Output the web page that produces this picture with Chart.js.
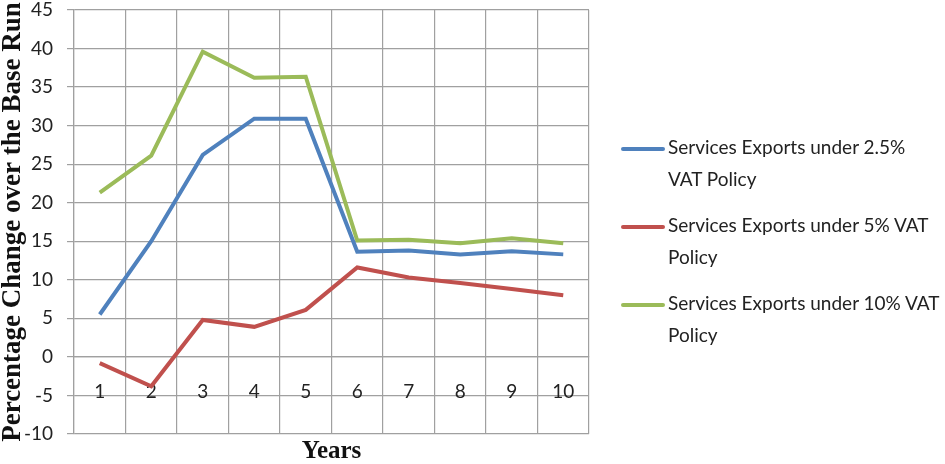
<!DOCTYPE html>
<html>
<head>
<meta charset="utf-8">
<script src="https://cdn.jsdelivr.net/npm/chart.js@4.4.1/dist/chart.umd.min.js"></script>
<style>
  html, body { margin: 0; padding: 0; background: #fff; }
  #wrap { position: relative; width: 945px; height: 464px; }
  #legend { position: absolute; left: 621px; top: 131px; font-family: Lato, sans-serif; font-size: 19px; color: #222; }
  .item { display: flex; align-items: flex-start; margin-bottom: 14px; }
  .swatch { width: 44px; height: 4px; border-radius: 2px; margin-top: 16px; margin-right: 3px; flex: none; }
  .txt { width: 275px; line-height: 32px; }
</style>
</head>
<body>
<div id="wrap">
  <canvas id="chart" width="945" height="464"></canvas>
  <div id="legend"></div>
</div>
<script>
const years = ["1", "2", "3", "4", "5", "6", "7", "8", "9", "10"];
const seriesNames = [
  "Services Exports under 2.5% VAT Policy",
  "Services Exports under 5% VAT Policy",
  "Services Exports under 10% VAT Policy"
];
const vat25 = [5.5, 15.0, 26.2, 30.9, 30.9, 13.65, 13.8, 13.3, 13.7, 13.3];
const vat5 = [-0.8, -3.8, 4.8, 3.9, 6.1, 11.6, 10.3, 9.6, 8.8, 8.0];
const vat10 = [21.3, 26.1, 39.6, 36.2, 36.35, 15.1, 15.2, 14.75, 15.4, 14.75];
const colors = ["#4F81BD", "#C0504D", "#9BBB59"];

const gridColor = "#a0a0a0";

let ctx = document.getElementById("chart").getContext("2d");
let chart = new Chart(ctx, {
    type: "line",
    data: {
        labels: years,
        datasets: [vat25, vat5, vat10].map((d, i) => ({
            label: seriesNames[i],
            data: d,
            borderColor: colors[i],
            backgroundColor: colors[i],
            borderWidth: 4,
            pointRadius: 0,
            tension: 0
        }))
    },
    options: {
        responsive: false,
        animation: false,
        layout: { padding: { top: 10, right: 356, left: 0, bottom: 0 } },
        plugins: {
            legend: { display: false },
            tooltip: { enabled: false }
        },
        scales: {
            x: {
                type: "category",
                position: { y: 0 },
                offset: true,
                grid: { offset: true, color: gridColor, lineWidth: 1.2, drawTicks: false },
                border: { color: gridColor, width: 1.2 },
                ticks: { padding: 24, color: "#222", font: { family: "Lato", size: 19 } }
            },
            x2: {
                type: "category",
                position: "bottom",
                grid: { display: false },
                border: { display: false },
                ticks: { display: false },
                title: {
                    display: true,
                    text: "Years",
                    color: "#111",
                    padding: 0,
                    font: { family: "Liberation Serif", size: 25, weight: "bold", lineHeight: 1 }
                },
                afterFit: s => { s.height = 30; }
            },
            y: {
                min: -10,
                max: 45,
                grid: { color: gridColor, lineWidth: 1.2, tickLength: 7 },
                border: { color: gridColor, width: 1.2 },
                ticks: { stepSize: 5, padding: 14, color: "#222", font: { family: "Lato", size: 19 } },
                title: {
                    display: true,
                    text: "Percentage Change over the Base Run",
                    color: "#111",
                    padding: 0,
                    font: { family: "Liberation Serif", size: 27, weight: "bold", lineHeight: 1 }
                },
                afterFit: s => {
                    s.width = 74;
                    s.paddingTop = 0;
                    s.paddingBottom = 0;
                }
            }
        }
    }
});

// html legend with wrapped labels
let legendEl = document.getElementById("legend");
chart.data.datasets.forEach(ds => {
    let item = document.createElement("div");
    item.className = "item";
    let sw = document.createElement("div");
    sw.className = "swatch";
    sw.style.background = ds.borderColor;
    let t = document.createElement("div");
    t.className = "txt";
    t.textContent = ds.label;
    item.appendChild(sw);
    item.appendChild(t);
    legendEl.appendChild(item);
});
</script>
</body>
</html>
